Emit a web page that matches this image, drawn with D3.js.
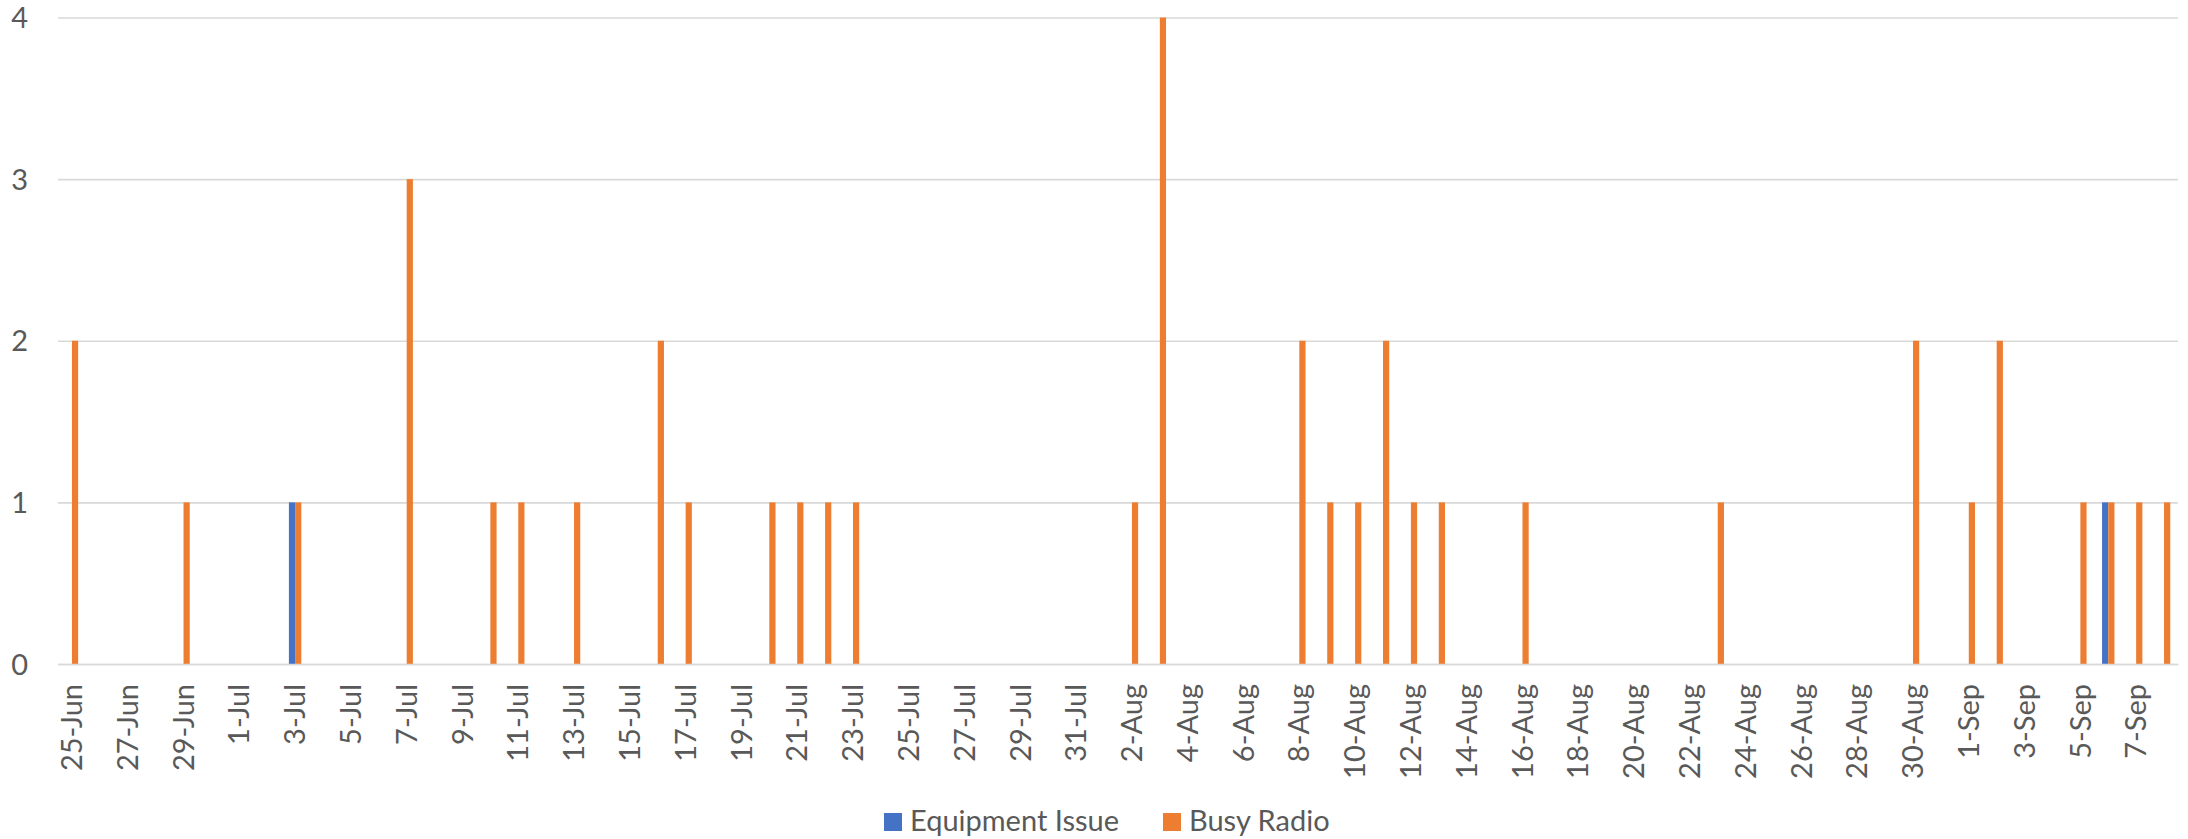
<!DOCTYPE html>
<html>
<head>
<meta charset="utf-8">
<script src="https://cdn.jsdelivr.net/npm/d3@7"></script>
<style>
  html, body { margin: 0; padding: 0; background: #ffffff; }
  svg { display: block; }
  text { font-family: Lato, "Noto Sans", sans-serif; fill: #595959; }
</style>
</head>
<body>
<svg id="chart" width="2188" height="839"></svg>
<script>
// ---- data ----
const categories = [
  "25-Jun","26-Jun","27-Jun","28-Jun","29-Jun","30-Jun",
  "1-Jul","2-Jul","3-Jul","4-Jul","5-Jul","6-Jul","7-Jul","8-Jul","9-Jul","10-Jul",
  "11-Jul","12-Jul","13-Jul","14-Jul","15-Jul","16-Jul","17-Jul","18-Jul","19-Jul","20-Jul",
  "21-Jul","22-Jul","23-Jul","24-Jul","25-Jul","26-Jul","27-Jul","28-Jul","29-Jul","30-Jul","31-Jul",
  "1-Aug","2-Aug","3-Aug","4-Aug","5-Aug","6-Aug","7-Aug","8-Aug","9-Aug","10-Aug",
  "11-Aug","12-Aug","13-Aug","14-Aug","15-Aug","16-Aug","17-Aug","18-Aug","19-Aug","20-Aug",
  "21-Aug","22-Aug","23-Aug","24-Aug","25-Aug","26-Aug","27-Aug","28-Aug","29-Aug","30-Aug","31-Aug",
  "1-Sep","2-Sep","3-Sep","4-Sep","5-Sep","6-Sep","7-Sep","8-Sep"
];
const seriesNames = ["Equipment Issue", "Busy Radio"];
const seriesColors = ["#4472C4", "#ED7D31"];
const equipmentIssue = [
  0,0,0,0,0,0,
  0,0,1,0,0,0,0,0,0,0,
  0,0,0,0,0,0,0,0,0,0,
  0,0,0,0,0,0,0,0,0,0,0,
  0,0,0,0,0,0,0,0,0,0,
  0,0,0,0,0,0,0,0,0,0,
  0,0,0,0,0,0,0,0,0,0,0,
  0,0,0,0,0,1,0,0
];
const busyRadio = [
  2,0,0,0,1,0,
  0,0,1,0,0,0,3,0,0,1,
  1,0,1,0,0,2,1,0,0,1,
  1,1,1,0,0,0,0,0,0,0,0,
  0,1,4,0,0,0,0,2,1,1,
  2,1,1,0,0,1,0,0,0,0,
  0,0,1,0,0,0,0,0,0,2,0,
  1,2,0,0,1,1,1,1
];
const yTicks = [0, 1, 2, 3, 4];
const xTickLabels = categories.filter((d, i) => i % 2 === 0);

// ---- layout ----
const svg = d3.select("#chart");
const plot = { left: 58, right: 2178, top: 17.5, bottom: 664 };

const x0 = d3.scaleBand()
  .domain(categories)
  .range([plot.left, plot.right])
  .paddingInner(0.555)
  .paddingOuter(0.2775);

const x1 = d3.scaleBand()
  .domain(seriesNames)
  .range([0, x0.bandwidth()])
  .padding(0);

const y = d3.scaleLinear().domain([0, 4]).range([plot.bottom, plot.top]);

// gridlines
const yAxis = d3.axisLeft(y)
  .tickValues(yTicks)
  .tickSize(-(plot.right - plot.left))
  .tickPadding(30)
  .tickFormat(d3.format("d"));

const gy = svg.append("g")
  .attr("transform", `translate(${plot.left},0)`)
  .call(yAxis);
gy.select(".domain").remove();
gy.selectAll(".tick line").attr("stroke", "#d9d9d9").attr("stroke-width", 1.6);
gy.selectAll(".tick text")
  .attr("font-size", 29)
  .attr("font-family", "Lato, 'Noto Sans', sans-serif")
  .attr("fill", "#595959")
  .attr("dy", "0.35em");

// bars
const seriesData = [equipmentIssue, busyRadio];
const groups = svg.append("g").selectAll("g")
  .data(categories)
  .join("g")
  .attr("transform", d => `translate(${x0(d)},0)`);

groups.selectAll("rect")
  .data((d, i) => seriesNames.map((s, k) => ({ s, k, v: seriesData[k][i] })))
  .join("rect")
  .filter(d => d.v > 0)
  .attr("x", d => x1(d.s))
  .attr("width", x1.bandwidth())
  .attr("y", d => y(d.v))
  .attr("height", d => y(0) - y(d.v))
  .attr("fill", d => seriesColors[d.k]);

// x axis
const xAxis = d3.axisBottom(x0)
  .tickValues(xTickLabels)
  .tickSize(0)
  .tickPadding(0);

const gx = svg.append("g")
  .attr("transform", `translate(0,${plot.bottom})`)
  .call(xAxis);
gx.select(".domain").attr("stroke", "#d9d9d9").attr("stroke-width", 1.6);
gx.selectAll(".tick text")
  .attr("font-size", 29)
  .attr("font-family", "Lato, 'Noto Sans', sans-serif")
  .attr("fill", "#595959")
  .attr("text-anchor", "end")
  .attr("transform", "rotate(-90)")
  .attr("x", -20)
  .attr("y", 0)
  .attr("dy", "0.35em");

// legend
const legend = svg.append("g").attr("transform", "translate(884,813)");
const legendItems = [
  { name: seriesNames[0], color: seriesColors[0], dx: 0 },
  { name: seriesNames[1], color: seriesColors[1], dx: 279 }
];
const li = legend.selectAll("g").data(legendItems).join("g")
  .attr("transform", d => `translate(${d.dx},0)`);
li.append("rect").attr("width", 18).attr("height", 18).attr("fill", d => d.color);
li.append("text")
  .attr("x", 26)
  .attr("y", 18)
  .attr("font-size", 29)
  .text(d => d.name);
</script>
</body>
</html>
